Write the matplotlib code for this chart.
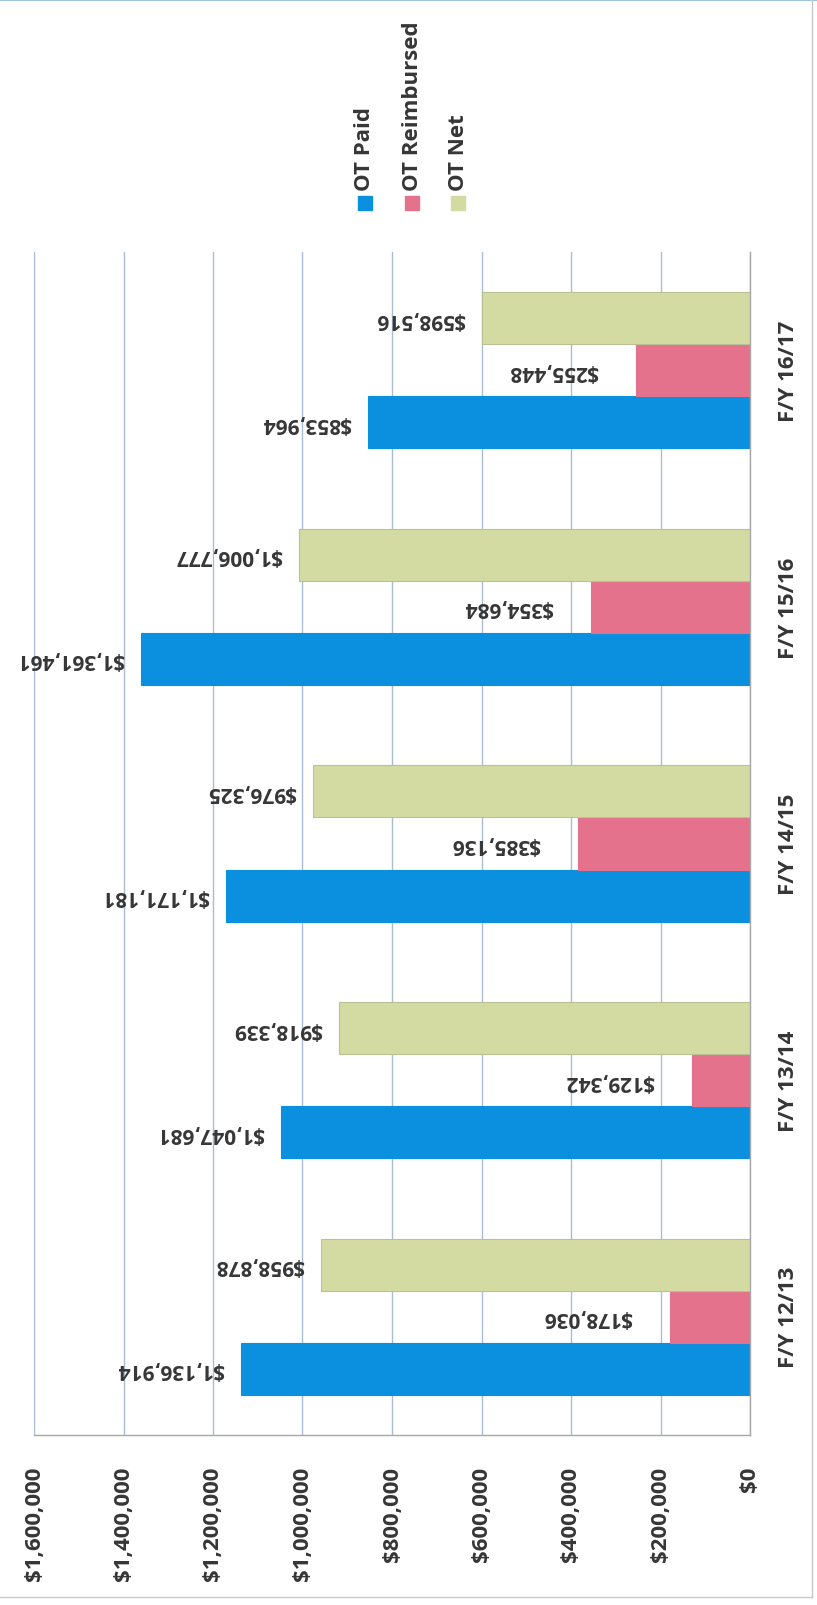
import matplotlib
matplotlib.use("Agg")
import matplotlib.pyplot as plt
from matplotlib.patches import Rectangle
from matplotlib.lines import Line2D
import numpy as np

# overtime by fiscal year
years = ["F/Y 12/13", "F/Y 13/14", "F/Y 14/15", "F/Y 15/16", "F/Y 16/17"]
ot_paid = [1136914, 1047681, 1171181, 1361461, 853964]
ot_reimbursed = [178036, 129342, 385136, 354684, 255448]
ot_net = [958878, 918339, 976325, 1006777, 598516]
series_names = ["OT Paid", "OT Reimbursed", "OT Net"]
value_ticks = [0, 200000, 400000, 600000, 800000, 1000000, 1200000, 1400000, 1600000]

colors = ["#0b8fdf", "#e5728c", "#d4dba2"]
text_color = "#363636"

plt.rcParams["font.family"] = ["Open Sans", "DejaVu Sans"]
plt.rcParams["font.weight"] = "bold"

W, H = 817, 1606
fig = plt.figure(figsize=(W / 100, H / 100), dpi=100)
# whole chart is turned on its side: value axis runs right-to-left
ax = fig.add_axes([34 / W, 1 - 1436 / H, (750 - 34) / W, (1436 - 253) / H])

pos = np.arange(len(years))
h = 0.22
series = [ot_paid, ot_reimbursed, ot_net]
for i, (vals, c) in enumerate(zip(series, colors)):
    edge = "#b9c093" if i == 2 else c
    bars = ax.barh(pos + (i - 1) * h, vals, height=h, color=c, edgecolor=edge,
                   linewidth=0.8, zorder=2)
    gap = 38 if i == 1 else 17
    for b, v in zip(bars, vals):
        ax.annotate(f"${v:,}", xy=(v, b.get_y() + h / 2), xytext=(-gap, 0),
                    textcoords="offset pixels", ha="right", va="center",
                    rotation=180, fontsize=15, fontweight="bold",
                    color=text_color, zorder=3)

ax.set_xlim(1600000, 0)
ax.set_ylim(-0.5, len(years) - 0.5)

ax.set_xticks(value_ticks)
ax.set_xticklabels([f"${t:,}" for t in value_ticks], rotation=90,
                   fontweight="bold")
ax.tick_params(axis="x", length=0, pad=22, labelsize=16, labelcolor=text_color)

ax.yaxis.tick_right()
ax.set_yticks(pos)
ax.set_yticklabels(years, rotation=90, va="center", fontweight="bold")
ax.tick_params(axis="y", length=0, pad=20, labelsize=16, labelcolor=text_color)

ax.grid(axis="x", color="#a9bdd0", linewidth=1, zorder=0)
ax.set_axisbelow(True)
for s in ["top", "left"]:
    ax.spines[s].set_visible(False)
for s in ["right", "bottom"]:
    ax.spines[s].set_color("#a8a8a8")
    ax.spines[s].set_linewidth(1)

# legend, drawn by hand so the entries stand upright like the rest
for name, c, x in zip(series_names, colors, [365, 412, 458]):
    fig.patches.append(Rectangle(((x - 7) / W, 1 - 211 / H), 14 / W, 14 / H,
                                 transform=fig.transFigure, color=c))
    fig.text(x / W, 1 - 191 / H, name, rotation=90, ha="center", va="bottom",
             fontsize=16, fontweight="bold", color=text_color)

# chart area border
fig.add_artist(Line2D([0, 1], [1 - 1 / H, 1 - 1 / H], color="#9fc3dd", lw=1.5,
                      transform=fig.transFigure))
fig.add_artist(Line2D([812 / W, 812 / W], [1 - 1598 / H, 1], color="#c8c8c8", lw=1,
                      transform=fig.transFigure))
fig.add_artist(Line2D([0, 812 / W], [1 - 1598 / H, 1 - 1598 / H], color="#c8c8c8",
                      lw=1, transform=fig.transFigure))

fig.savefig("out.png", dpi=100)
